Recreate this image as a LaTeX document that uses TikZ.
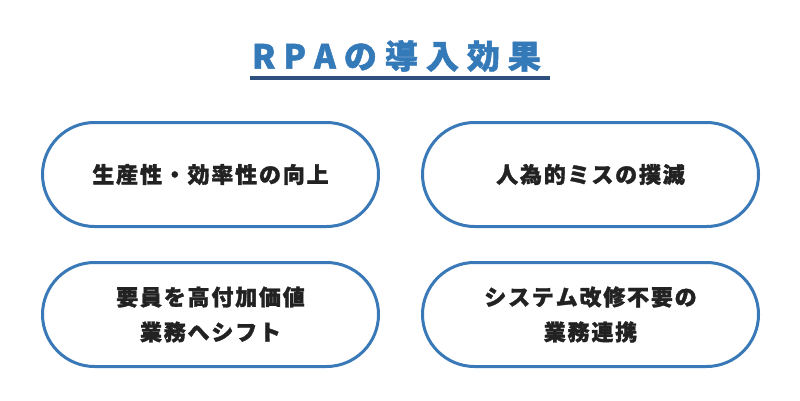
\documentclass[tikz,border=0pt]{standalone}
\usepackage{fontspec}
\usetikzlibrary{shapes.misc}
\newfontfamily\jpbold[FakeBold=1.5]{Noto Sans CJK JP Black}
\makeatletter
\newcommand\spc[2]{\@tfor\spcx:=#2\do{\spcx\hspace{#1}}\unskip}
\makeatother
\definecolor{boxblue}{HTML}{3A79B7}
\definecolor{titleblue}{HTML}{3479B8}
\definecolor{lineblue}{HTML}{2F4F7F}
\definecolor{txt}{HTML}{222222}
\tikzset{
  pill/.style={rounded rectangle, draw=boxblue, line width=3pt, fill=white,
    minimum width=336pt, minimum height=104pt, inner sep=0pt,
    text=txt, font=\jpbold\fontsize{22pt}{35pt}\selectfont, align=center},
  ttl/.style={text=titleblue, font=\jpbold\fontsize{33pt}{33pt}\selectfont, inner sep=0pt}
}
\begin{document}
\begin{tikzpicture}[x=1pt,y=1pt]
\path[fill=white] (0,0) rectangle (800,400);
\useasboundingbox (0,0) rectangle (800,400);
\node[ttl] (title) at (396.5,344) {\spc{8pt}{RPAの導入効果}};
\coordinate (ul1) at (250,322);
\coordinate (ul2) at (550,322);
\draw[lineblue, line width=4pt] (ul1) -- (ul2);
\node[pill] (a) at (210.5,225.5) {\spc{1.8pt}{生産性・効率性の向上}};
\node[pill] (b) at (590.5,225.5) {\spc{1.8pt}{人為的ミスの撲滅}};
\node[pill] (c) at (210.5,85.5) {\spc{1.8pt}{要員を高付加価値}\\\spc{1.8pt}{業務へシフト}};
\node[pill] (d) at (590.5,85.5) {\spc{1.8pt}{システム改修不要の}\\\spc{1.8pt}{業務連携}};
\end{tikzpicture}
\end{document}
